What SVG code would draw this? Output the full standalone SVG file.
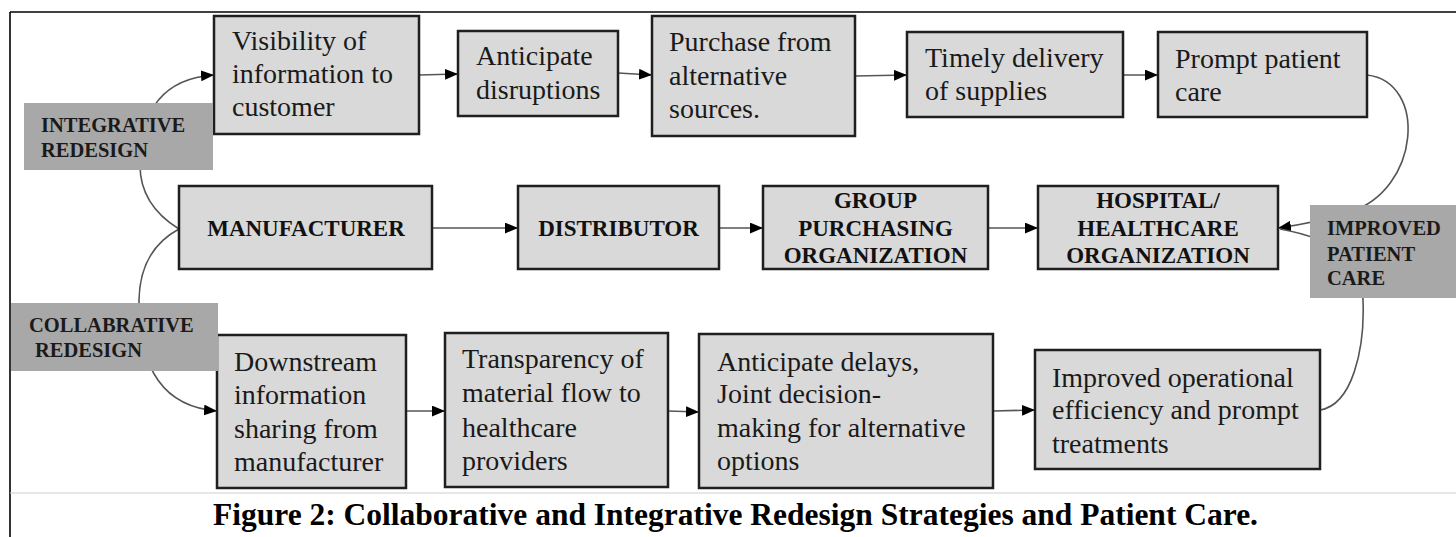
<svg xmlns="http://www.w3.org/2000/svg" width="1456" height="537" viewBox="0 0 1456 537">
  <defs>
    <marker id="arrow" viewBox="0 0 12 10" refX="12" refY="5" markerWidth="13" markerHeight="11" markerUnits="userSpaceOnUse" orient="auto">
      <path d="M0,0 L12,5 L0,10 Z" fill="#000"/>
    </marker>
    <style>
      .box { fill: #d9d9d9; stroke: #1f1f1f; stroke-width: 2.5; }
      .tag { fill: #a8a8a8; stroke: none; }
      .txt { font-family: "Liberation Serif", "Times New Roman", serif; font-size: 28px; fill: #1a1a1a; }
      .bold { font-family: "Liberation Serif", "Times New Roman", serif; font-size: 23px; font-weight: bold; fill: #111; text-anchor: middle; }
      .tagtxt { font-family: "Liberation Serif", "Times New Roman", serif; font-size: 20.5px; font-weight: bold; fill: #1a1a1a; }
      .link { fill: none; stroke: #555; stroke-width: 1.6; }
      .arrowed { marker-end: url(#arrow); }
    </style>
  </defs>

  <rect width="1456" height="537" fill="#fff"/>

  <!-- frame -->
  <g id="frame">
    <line x1="10" y1="12" x2="1456" y2="12" stroke="#000" stroke-width="1.6"/>
    <line x1="10" y1="12" x2="10" y2="537" stroke="#000" stroke-width="1.6"/>
    <line x1="10" y1="493" x2="1456" y2="493" stroke="#cfcfcf" stroke-width="1.2"/>
  </g>

  <!-- connectors -->
  <g id="connectors">
    <!-- top row -->
    <line class="link arrowed" x1="419" y1="75" x2="458" y2="74"/>
    <line class="link arrowed" x1="618" y1="73" x2="652" y2="75"/>
    <line class="link arrowed" x1="855" y1="76" x2="907" y2="75"/>
    <line class="link arrowed" x1="1123" y1="75" x2="1158" y2="75"/>
    <!-- middle row -->
    <line class="link arrowed" x1="432" y1="228" x2="518" y2="228"/>
    <line class="link arrowed" x1="719" y1="228" x2="763" y2="228"/>
    <line class="link arrowed" x1="988" y1="228" x2="1038" y2="228"/>
    <!-- bottom row -->
    <line class="link arrowed" x1="406" y1="411" x2="445" y2="411"/>
    <line class="link arrowed" x1="668" y1="411" x2="699" y2="412"/>
    <line class="link arrowed" x1="993" y1="411" x2="1035" y2="410"/>
    <!-- manufacturer to the two strategy rows -->
    <path class="link arrowed" d="M179,229 Q140,205 140,165 Q140,80 214,75"/>
    <path class="link arrowed" d="M179,229 Q140,250 139,300 Q138,405 217,411"/>
    <!-- both outcomes feeding back into the hospital -->
    <path class="link arrowed" d="M1367,75 C1428,82 1420,190 1350,212 Q1320,222 1278,228"/>
    <path class="link" d="M1320,410 C1352,405 1365,350 1363,300 C1362,262 1340,240 1280,229"/>
  </g>

  <!-- top row: integrative chain -->
  <g id="visibility">
    <rect class="box" x="214" y="16" width="205" height="118"/>
    <text class="txt" x="232" y="50">Visibility of</text>
    <text class="txt" x="232" y="83">information to</text>
    <text class="txt" x="232" y="116">customer</text>
  </g>
  <g id="anticipate-disruptions">
    <rect class="box" x="458" y="31" width="160" height="85"/>
    <text class="txt" x="476" y="65">Anticipate</text>
    <text class="txt" x="476" y="99">disruptions</text>
  </g>
  <g id="purchase">
    <rect class="box" x="652" y="16" width="203" height="120"/>
    <text class="txt" x="669" y="51">Purchase from</text>
    <text class="txt" x="669" y="85">alternative</text>
    <text class="txt" x="669" y="118">sources.</text>
  </g>
  <g id="timely-delivery">
    <rect class="box" x="907" y="32" width="216" height="85"/>
    <text class="txt" x="925" y="67">Timely delivery</text>
    <text class="txt" x="925" y="100">of supplies</text>
  </g>
  <g id="prompt-care">
    <rect class="box" x="1158" y="32" width="209" height="85"/>
    <text class="txt" x="1175" y="68">Prompt patient</text>
    <text class="txt" x="1175" y="101">care</text>
  </g>

  <!-- middle row: supply chain -->
  <g id="manufacturer">
    <rect class="box" x="179" y="186" width="253" height="83"/>
    <text class="bold" x="306" y="236">MANUFACTURER</text>
  </g>
  <g id="distributor">
    <rect class="box" x="518" y="186" width="201" height="83"/>
    <text class="bold" x="618.5" y="236">DISTRIBUTOR</text>
  </g>
  <g id="gpo">
    <rect class="box" x="763" y="186" width="225" height="83"/>
    <text class="bold" x="875.5" y="208">GROUP</text>
    <text class="bold" x="875.5" y="236">PURCHASING</text>
    <text class="bold" x="875.5" y="263">ORGANIZATION</text>
  </g>
  <g id="hospital">
    <rect class="box" x="1038" y="186" width="240" height="83"/>
    <text class="bold" x="1158" y="208">HOSPITAL/</text>
    <text class="bold" x="1158" y="236">HEALTHCARE</text>
    <text class="bold" x="1158" y="263">ORGANIZATION</text>
  </g>

  <!-- bottom row: collaborative chain -->
  <g id="downstream">
    <rect class="box" x="217" y="335" width="189" height="153"/>
    <text class="txt" x="234" y="371">Downstream</text>
    <text class="txt" x="234" y="404">information</text>
    <text class="txt" x="234" y="438">sharing from</text>
    <text class="txt" x="234" y="471">manufacturer</text>
  </g>
  <g id="transparency">
    <rect class="box" x="445" y="333" width="223" height="154"/>
    <text class="txt" x="462" y="368">Transparency of</text>
    <text class="txt" x="462" y="402">material flow to</text>
    <text class="txt" x="462" y="437">healthcare</text>
    <text class="txt" x="462" y="470">providers</text>
  </g>
  <g id="anticipate-delays">
    <rect class="box" x="699" y="334" width="294" height="154"/>
    <text class="txt" x="717" y="371">Anticipate delays,</text>
    <text class="txt" x="717" y="403">Joint decision-</text>
    <text class="txt" x="717" y="437">making for alternative</text>
    <text class="txt" x="717" y="470">options</text>
  </g>
  <g id="operational-efficiency">
    <rect class="box" x="1035" y="350" width="285" height="119"/>
    <text class="txt" x="1052" y="387">Improved operational</text>
    <text class="txt" x="1052" y="419">efficiency and prompt</text>
    <text class="txt" x="1052" y="453">treatments</text>
  </g>

  <!-- strategy and outcome tags -->
  <g id="integrative">
    <rect class="tag" x="24" y="103" width="189" height="67"/>
    <text class="tagtxt" x="41" y="132">INTEGRATIVE</text>
    <text class="tagtxt" x="41" y="157">REDESIGN</text>
  </g>
  <g id="collaborative">
    <rect class="tag" x="11" y="303" width="207" height="68"/>
    <text class="tagtxt" x="29" y="332">COLLABRATIVE</text>
    <text class="tagtxt" x="35" y="357">REDESIGN</text>
  </g>
  <g id="improved-care">
    <rect class="tag" x="1310" y="205" width="146" height="93"/>
    <text class="tagtxt" x="1327" y="235">IMPROVED</text>
    <text class="tagtxt" x="1327" y="261">PATIENT</text>
    <text class="tagtxt" x="1327" y="285">CARE</text>
  </g>

  <text id="caption" x="213" y="525" textLength="1045" lengthAdjust="spacingAndGlyphs" font-family="'Liberation Serif', 'Times New Roman', serif" font-size="31" font-weight="bold" fill="#000">Figure 2: Collaborative and Integrative Redesign Strategies and Patient Care.</text>
</svg>
